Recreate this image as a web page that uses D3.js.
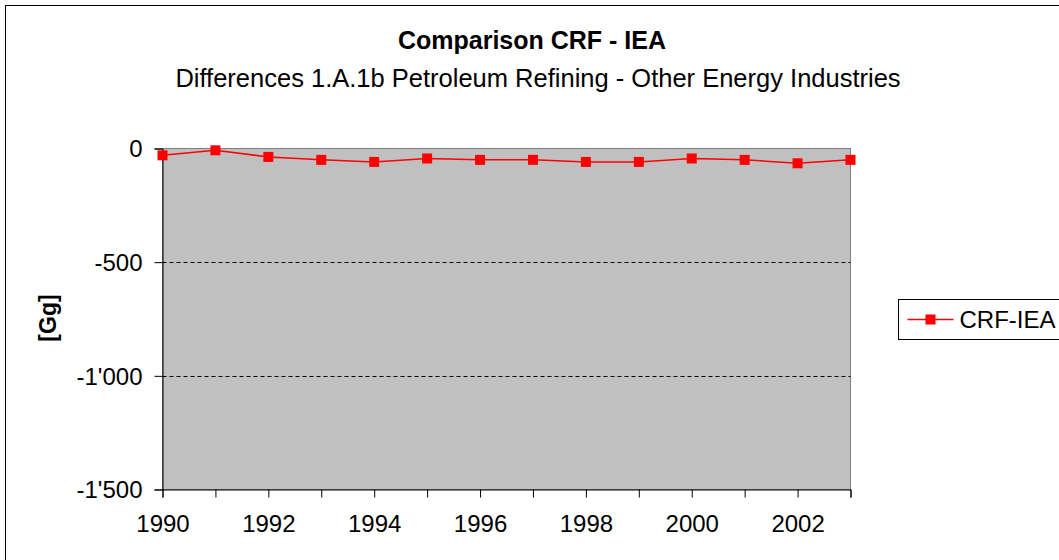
<!DOCTYPE html>
<html>
<head>
<meta charset="utf-8">
<script src="https://cdn.jsdelivr.net/npm/d3@7"></script>
<style>
  body { margin: 0; background: #fff; }
  text { font-family: "Liberation Sans", Arial, sans-serif; fill: #000; }
</style>
</head>
<body>
<svg id="chart" width="1059" height="560"></svg>
<script>
let svg = d3.select("#chart");

//! DATA
let years = [1990, 1991, 1992, 1993, 1994, 1995, 1996, 1997, 1998, 1999, 2000, 2001, 2002, 2003];
let diffs = [-30, -8, -37, -50, -59, -44, -50, -50, -59, -59, -44, -50, -65, -50];
let yTicks = [0, -500, -1000, -1500];
let xLabels = [1990, 1992, 1994, 1996, 1998, 2000, 2002];
let seriesName = "CRF-IEA";

let plot = { left: 162.5, right: 850.5, top: 148.5, bottom: 489.5 };

// outer chart frame (cut off on the right / bottom like the original)
svg.append("rect")
    .attr("x", 5.5).attr("y", 5.5)
    .attr("width", 1100).attr("height", 600)
    .attr("fill", "none").attr("stroke", "#000");

//? Titles
svg.append("text")
    .attr("x", 532).attr("y", 49)
    .attr("text-anchor", "middle")
    .attr("font-size", 25).attr("font-weight", "bold")
    .text("Comparison CRF - IEA");

svg.append("text")
    .attr("x", 538).attr("y", 87)
    .attr("text-anchor", "middle")
    .attr("font-size", 25.5)
    .text("Differences 1.A.1b Petroleum Refining - Other Energy Industries");

//? Scales
let x = d3.scaleLinear().domain([1990, 2003]).range([plot.left, plot.right]);
let y = d3.scaleLinear().domain([-1500, 0]).range([plot.bottom, plot.top]);

// plot area
svg.append("rect")
    .attr("x", plot.left).attr("y", plot.top)
    .attr("width", plot.right - plot.left).attr("height", plot.bottom - plot.top)
    .attr("fill", "#c0c0c0")
    .attr("stroke", "#808080");

// dashed gridlines
svg.append("g")
    .selectAll("line")
    .data([-500, -1000])
    .enter()
    .append("line")
    .attr("x1", plot.left).attr("x2", plot.right)
    .attr("y1", d => Math.round(y(d)) + 0.5).attr("y2", d => Math.round(y(d)) + 0.5)
    .attr("stroke", "#000")
    .attr("stroke-dasharray", "4,3");

//? Axes
let fmt = d => d3.format(",")(d).replace(/,/g, "'").replace("−", "-");

let yAxis = svg.append("g")
    .attr("transform", `translate(${plot.left},0)`)
    .call(d3.axisLeft(y).tickValues(yTicks).tickSize(8).tickPadding(12).tickFormat(fmt));

let xAxis = svg.append("g")
    .attr("transform", `translate(0,${plot.bottom})`)
    .call(d3.axisBottom(x).tickValues(years).tickSize(8).tickPadding(17)
        .tickFormat(d => xLabels.includes(d) ? d : ""));

[yAxis, xAxis].forEach(a => {
    a.attr("font-size", 24).attr("font-family", "Liberation Sans, Arial, sans-serif");
    a.select(".domain").attr("stroke", "#000");
    a.selectAll(".tick line").attr("stroke", "#000");
    a.selectAll("text")
        .attr("font-size", 24)
        .attr("fill", "#000");
});
yAxis.selectAll("text").attr("dy", "0.35em");

svg.append("text")
    .attr("transform", "translate(56,318) rotate(-90)")
    .attr("text-anchor", "middle")
    .attr("font-size", 23).attr("font-weight", "bold")
    .text("[Gg]");

//? Series
let line = d3.line()
    .x((d, i) => x(years[i]))
    .y(d => y(d));

svg.append("path")
    .datum(diffs)
    .attr("d", line)
    .attr("fill", "none")
    .attr("stroke", "#ff0000")
    .attr("stroke-width", 1.5);

svg.append("g")
    .selectAll("rect")
    .data(diffs)
    .enter()
    .append("rect")
    .attr("x", (d, i) => x(years[i]) - 5)
    .attr("y", d => y(d) - 5)
    .attr("width", 10).attr("height", 10)
    .attr("fill", "#ff0000");

//? Legend
let legend = svg.append("g").attr("transform", "translate(898.5,299.5)");
legend.append("rect")
    .attr("width", 200).attr("height", 40)
    .attr("fill", "#fff").attr("stroke", "#000");
legend.append("line")
    .attr("x1", 9).attr("x2", 55).attr("y1", 20).attr("y2", 20)
    .attr("stroke", "#ff0000").attr("stroke-width", 1.5);
legend.append("rect")
    .attr("x", 27).attr("y", 15).attr("width", 10).attr("height", 10)
    .attr("fill", "#ff0000");
legend.append("text")
    .attr("x", 61).attr("y", 28)
    .attr("font-size", 24)
    .text(seriesName);
</script>
</body>
</html>
